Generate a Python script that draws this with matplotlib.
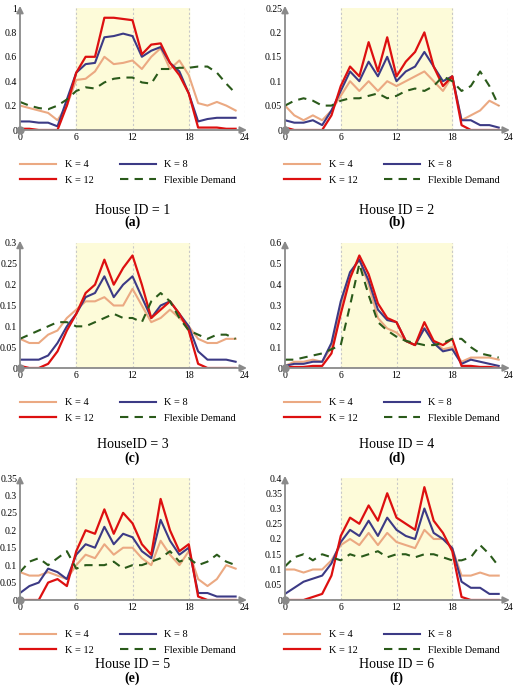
import matplotlib

matplotlib.use("Agg")
import matplotlib.pyplot as plt

plt.rcParams["font.family"] = ["Liberation Serif", "DejaVu Serif"]

hours = list(range(24))
x_ticks = [0, 6, 12, 18, 24]

k4 = [
    [0.2, 0.18, 0.16, 0.14, 0.08, 0.2, 0.41, 0.42, 0.48, 0.6, 0.54, 0.55, 0.57, 0.5, 0.6, 0.67, 0.5, 0.57, 0.45, 0.22, 0.2, 0.23, 0.2, 0.16],
    [0.05, 0.03, 0.02, 0.03, 0.02, 0.04, 0.07, 0.1, 0.08, 0.1, 0.08, 0.1, 0.09, 0.1, 0.11, 0.12, 0.1, 0.08, 0.11, 0.02, 0.03, 0.04, 0.06, 0.05],
    [0.07, 0.06, 0.06, 0.08, 0.09, 0.12, 0.14, 0.16, 0.16, 0.17, 0.15, 0.15, 0.19, 0.15, 0.11, 0.12, 0.14, 0.12, 0.1, 0.07, 0.06, 0.06, 0.07, 0.07],
    [0.01, 0.03, 0.03, 0.04, 0.03, 0.1, 0.3, 0.45, 0.52, 0.4, 0.24, 0.19, 0.17, 0.13, 0.11, 0.19, 0.13, 0.09, 0.1, 0.03, 0.05, 0.05, 0.05, 0.04],
    [0.08, 0.07, 0.07, 0.08, 0.07, 0.06, 0.1, 0.13, 0.12, 0.16, 0.13, 0.15, 0.15, 0.12, 0.1, 0.17, 0.13, 0.1, 0.14, 0.06, 0.04, 0.06, 0.1, 0.09],
    [0.1, 0.1, 0.09, 0.1, 0.1, 0.13, 0.18, 0.2, 0.18, 0.22, 0.18, 0.22, 0.19, 0.18, 0.17, 0.23, 0.2, 0.2, 0.17, 0.08, 0.08, 0.09, 0.08, 0.08],
]
k8 = [
    [0.07, 0.07, 0.06, 0.06, 0.03, 0.25, 0.47, 0.54, 0.55, 0.76, 0.77, 0.79, 0.77, 0.6, 0.65, 0.68, 0.55, 0.48, 0.3, 0.07, 0.09, 0.1, 0.1, 0.1],
    [0.02, 0.015, 0.015, 0.02, 0.01, 0.04, 0.08, 0.12, 0.1, 0.14, 0.11, 0.15, 0.1, 0.12, 0.13, 0.16, 0.13, 0.1, 0.11, 0.02, 0.02, 0.01, 0.01, 0.005],
    [0.02, 0.02, 0.02, 0.03, 0.06, 0.1, 0.13, 0.17, 0.18, 0.22, 0.17, 0.2, 0.22, 0.17, 0.12, 0.15, 0.16, 0.13, 0.1, 0.04, 0.02, 0.02, 0.02, 0.015],
    [0.01, 0.02, 0.02, 0.03, 0.03, 0.12, 0.32, 0.46, 0.52, 0.42, 0.28, 0.23, 0.22, 0.13, 0.11, 0.19, 0.12, 0.08, 0.09, 0.02, 0.04, 0.03, 0.02, 0.01],
    [0.02, 0.04, 0.05, 0.09, 0.08, 0.06, 0.13, 0.16, 0.15, 0.21, 0.16, 0.19, 0.18, 0.14, 0.12, 0.23, 0.17, 0.13, 0.15, 0.02, 0.02, 0.01, 0.01, 0.01],
    [0.02, 0.04, 0.06, 0.07, 0.08, 0.12, 0.19, 0.23, 0.21, 0.26, 0.21, 0.27, 0.23, 0.21, 0.2, 0.3, 0.22, 0.2, 0.17, 0.06, 0.04, 0.04, 0.02, 0.02],
]
k12 = [
    [0.01, 0.01, 0.0, 0.0, 0.0, 0.2, 0.47, 0.6, 0.6, 0.92, 0.92, 0.91, 0.9, 0.62, 0.7, 0.71, 0.55, 0.45, 0.3, 0.02, 0.02, 0.02, 0.01, 0.01],
    [0.005, 0, 0, 0, 0, 0.03, 0.09, 0.13, 0.11, 0.18, 0.12, 0.19, 0.11, 0.14, 0.16, 0.2, 0.13, 0.09, 0.11, 0.01, 0, 0, 0, 0],
    [0.005, 0, 0, 0.01, 0.04, 0.09, 0.13, 0.18, 0.2, 0.26, 0.2, 0.24, 0.27, 0.2, 0.12, 0.14, 0.16, 0.13, 0.09, 0.01, 0, 0, 0, 0],
    [0.005, 0.005, 0.005, 0.01, 0.01, 0.07, 0.26, 0.43, 0.54, 0.45, 0.31, 0.24, 0.22, 0.13, 0.11, 0.22, 0.13, 0.11, 0.14, 0.01, 0.01, 0.005, 0.005, 0],
    [0, 0, 0, 0.05, 0.06, 0.04, 0.14, 0.2, 0.19, 0.26, 0.19, 0.25, 0.22, 0.16, 0.13, 0.29, 0.2, 0.14, 0.16, 0.01, 0, 0, 0, 0],
    [0, 0, 0, 0.01, 0.02, 0.08, 0.21, 0.27, 0.25, 0.31, 0.26, 0.35, 0.27, 0.25, 0.23, 0.37, 0.26, 0.22, 0.16, 0.01, 0, 0, 0, 0],
]
flex = [
    [0.23, 0.2, 0.18, 0.17, 0.2, 0.25, 0.32, 0.35, 0.34, 0.39, 0.42, 0.43, 0.43, 0.39, 0.38, 0.5, 0.5, 0.51, 0.51, 0.52, 0.52, 0.47, 0.38, 0.3],
    [0.05, 0.06, 0.065, 0.06, 0.05, 0.05, 0.06, 0.065, 0.065, 0.07, 0.075, 0.065, 0.07, 0.08, 0.085, 0.08, 0.09, 0.11, 0.1, 0.08, 0.09, 0.12, 0.09, 0.05],
    [0.07, 0.08, 0.09, 0.1, 0.11, 0.11, 0.1, 0.1, 0.11, 0.12, 0.13, 0.12, 0.12, 0.11, 0.16, 0.18, 0.16, 0.12, 0.09, 0.08, 0.07, 0.08, 0.08, 0.07],
    [0.04, 0.04, 0.05, 0.06, 0.07, 0.09, 0.11, 0.3, 0.5, 0.35, 0.22, 0.18, 0.15, 0.13, 0.12, 0.11, 0.11, 0.12, 0.14, 0.14, 0.1, 0.07, 0.06, 0.05],
    [0.08, 0.11, 0.12, 0.1, 0.12, 0.14, 0.09, 0.1, 0.1, 0.1, 0.11, 0.09, 0.1, 0.1, 0.11, 0.12, 0.14, 0.11, 0.12, 0.1, 0.11, 0.13, 0.11, 0.1],
    [0.11, 0.14, 0.15, 0.13, 0.15, 0.14, 0.13, 0.15, 0.14, 0.15, 0.16, 0.14, 0.15, 0.15, 0.14, 0.15, 0.15, 0.14, 0.13, 0.13, 0.14, 0.18, 0.15, 0.11],
]
y_max = [1.0, 0.25, 0.3, 0.6, 0.35, 0.4]
y_step = [0.2, 0.05, 0.05, 0.1, 0.05, 0.05]
titles = ["House ID = 1", "House ID = 2", "HouseID = 3", "House ID = 4", "House ID = 5", "House ID = 6"]
letters = ["(a)", "(b)", "(c)", "(d)", "(e)", "(f)"]

W, H = 520, 686
fig = plt.figure(figsize=(W / 100, H / 100), dpi=100)

# pixel boxes: (x of hour 0, x of hour 24), (y of top tick, y of zero)
cols = [(20, 245), (285, 508)]
rows = [(8, 130), (243, 368), (478, 600)]
# pixel offsets below the x axis: legend top, title, letter
row_offsets = [(26, 80, 92), (26, 77, 90), (26, 65, 78)]
grey = "#8a8a8a"

for i in range(6):
    r, c = divmod(i, 2)
    x0, x1 = cols[c]
    yt, y0 = rows[r]
    h = y0 - yt
    leg_off, title_off, letter_off = row_offsets[r]
    ax = fig.add_axes([x0 / W, 1 - y0 / H, (x1 - x0) / W, h / H])
    ymax = y_max[i]
    ax.set_xlim(0, 24)
    ax.set_ylim(0, ymax)
    ax.axvspan(6, 18, color="#fdfbd9", zorder=0)
    for xv in [6, 12, 18, 24]:
        ax.axvline(xv, color="#c8c8c8", lw=0.8, ls=(0, (2, 2)), zorder=1)
    l4, = ax.plot(hours, k4[i], color="#eba982", lw=1.5)
    l8, = ax.plot(hours, k8[i], color="#3c3a85", lw=1.5)
    l12, = ax.plot(hours, k12[i], color="#dd1010", lw=1.6)
    lf, = ax.plot(hours, flex[i], color="#2a5a1a", lw=1.5, ls=(0, (4, 3)))
    for s in ["top", "right", "left", "bottom"]:
        ax.spines[s].set_visible(False)
    ax.annotate("", xy=(24.5, 0), xytext=(0, 0), annotation_clip=False,
                arrowprops=dict(arrowstyle="-|>", color=grey, lw=1.3))
    ax.annotate("", xy=(0, ymax * 1.04), xytext=(0, 0), annotation_clip=False,
                arrowprops=dict(arrowstyle="-|>", color=grey, lw=1.3))
    ax.plot([0], [0], "o", color=grey, ms=5, clip_on=False, zorder=5)
    ax.set_xticks(x_ticks)
    n = int(round(ymax / y_step[i]))
    yt_vals = [round(k * y_step[i], 2) for k in range(n + 1)]
    ax.set_yticks(yt_vals)
    ax.set_yticklabels(["0" if v == 0 else ("%g" % v) for v in yt_vals])
    ax.tick_params(length=0, labelsize=7, pad=2)
    ax.legend([l4, l12, l8, lf], ["K = 4", "K = 12", "K = 8", "Flexible Demand"], ncol=2,
              frameon=False, fontsize=7.5, loc="upper center",
              bbox_to_anchor=(0.48, -leg_off / h), borderaxespad=0,
              handlelength=3.5, columnspacing=2.5, labelspacing=0.6)
    ax.text(0.5, -title_off / h, titles[i], transform=ax.transAxes, ha="center", va="center", fontsize=10)
    ax.text(0.5, -letter_off / h, letters[i], transform=ax.transAxes, ha="center", va="center",
            fontsize=10, fontweight="bold")

fig.savefig("out.png", dpi=100)
